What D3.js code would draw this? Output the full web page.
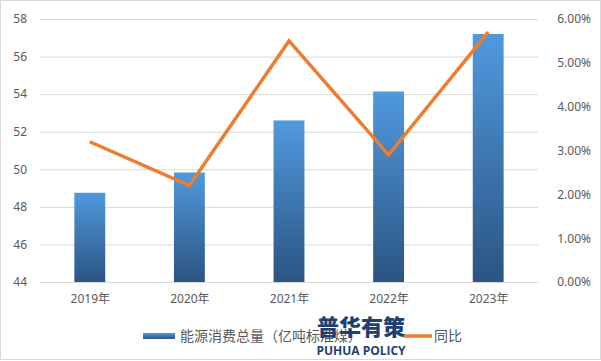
<!DOCTYPE html>
<html><head><meta charset="utf-8">
<script src="https://cdn.jsdelivr.net/npm/d3@7"></script>
<style>body{margin:0;background:#fff}svg{display:block}</style>
</head><body><svg id="c" width="601" height="361"></svg>
<script>
const categories = ["2019年","2020年","2021年","2022年","2023年"];
const energy = [48.75, 49.83, 52.6, 54.14, 57.2];
const growth = [0.032, 0.022, 0.055, 0.029, 0.057];
const leftTicks = [44,46,48,50,52,54,56,58];
const rightTicks = [0,0.01,0.02,0.03,0.04,0.05,0.06];
const seriesNames = ["能源消费总量（亿吨标准煤）","同比"];

const svg = d3.select("#c");
const font = "'Noto Sans','Noto Sans CJK SC',sans-serif";
const m = {l:40, r:63, t:19, b:79};
const W = 601, H = 361;
const x = d3.scaleBand().domain(categories).range([m.l, W-m.r]).paddingInner(0.69).paddingOuter(0.345);
const xp = d3.scalePoint().domain(categories).range([m.l, W-m.r]).padding(0.5);
const yL = d3.scaleLinear().domain([44,58]).range([H-m.b, m.t]);
const yR = d3.scaleLinear().domain([0,0.06]).range([H-m.b, m.t]);

svg.append("rect").attr("x",0.5).attr("y",0.5).attr("width",W-1).attr("height",H-2)
  .attr("fill","#fff").attr("stroke","#d9d9d9");

const defs = svg.append("defs");
const g = defs.append("linearGradient").attr("id","bg").attr("x1",0).attr("y1",0).attr("x2",0).attr("y2",1);
g.append("stop").attr("offset","0%").attr("stop-color","#5099de");
g.append("stop").attr("offset","100%").attr("stop-color","#2b5482");

// gridlines
svg.append("g").call(d3.axisLeft(yL).tickValues(leftTicks).tickSize(-(W-m.l-m.r)).tickFormat(""))
  .attr("transform",`translate(${m.l},0)`)
  .call(s=>s.select(".domain").remove())
  .call(s=>s.selectAll("line").attr("stroke","#d9d9d9"));

// left axis labels
svg.append("g").attr("transform",`translate(${m.l-13},0)`)
  .call(d3.axisLeft(yL).tickValues(leftTicks).tickSize(0).tickPadding(0))
  .call(s=>s.select(".domain").remove())
  .call(s=>s.selectAll("text").attr("fill","#595959").style("font-size","12px").style("font-family",font));

// right axis labels
svg.append("g").attr("transform",`translate(${W-10},0)`)
  .call(d3.axisLeft(yR).tickValues(rightTicks).tickSize(0).tickPadding(0).tickFormat(d3.format(".2%")))
  .call(s=>s.select(".domain").remove())
  .call(s=>s.selectAll("text").attr("fill","#595959").style("font-size","12px").style("font-family",font));

// x axis labels
svg.append("g").attr("transform",`translate(0,${H-m.b+9})`)
  .call(d3.axisBottom(xp).tickSize(0).tickPadding(3))
  .call(s=>s.select(".domain").remove())
  .call(s=>s.selectAll("text").attr("fill","#595959").style("font-size","12px").style("font-family",font));

// bars
svg.append("g").selectAll("rect").data(energy).join("rect")
  .attr("x",(d,i)=>x(categories[i])).attr("width",x.bandwidth())
  .attr("y",d=>yL(d)).attr("height",d=>yL(44)-yL(d))
  .attr("fill","url(#bg)");

// line
svg.append("path").datum(growth)
  .attr("d",d3.line().x((d,i)=>xp(categories[i])).y(d=>yR(d)))
  .attr("fill","none").attr("stroke","#ed7d31").attr("stroke-width",3.5).attr("stroke-linejoin","miter");

// legend
const lg = svg.append("g");
const lgr = defs.append("linearGradient").attr("id","lg").attr("x1",0).attr("y1",0).attr("x2",0).attr("y2",1);
lgr.append("stop").attr("offset","0%").attr("stop-color","#5099de");
lgr.append("stop").attr("offset","100%").attr("stop-color","#2b5482");
lg.append("rect").attr("x",143).attr("y",333).attr("width",32).attr("height",6).attr("fill","url(#lg)");
lg.append("text").attr("x",180).attr("y",341).text(seriesNames[0])
  .attr("fill","#595959").style("font-size","14px").style("font-family",font);
lg.append("line").attr("x1",403).attr("x2",432).attr("y1",336).attr("y2",336)
  .attr("stroke","#ed7d31").attr("stroke-width",3.5);
lg.append("text").attr("x",434).attr("y",341).text(seriesNames[1])
  .attr("fill","#595959").style("font-size","14px").style("font-family",font);

// watermark
svg.append("text").attr("x",361).attr("y",335).attr("text-anchor","middle").text("普华有策")
  .attr("fill","#1d3f73").style("font-size","22px").style("font-weight","900").style("font-family","'Noto Sans CJK SC',sans-serif");
svg.append("text").attr("x",361).attr("y",355).attr("text-anchor","middle").text("PUHUA POLICY")
  .attr("fill","#1d3f73").style("font-size","12px").style("font-weight","bold").style("font-family","'Open Sans',sans-serif");
</script></body></html>
